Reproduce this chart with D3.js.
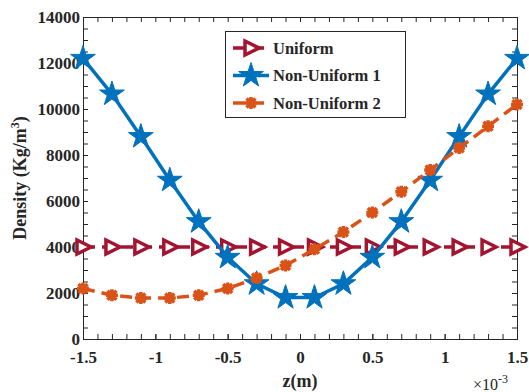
<!DOCTYPE html>
<html>
<head>
<meta charset="utf-8">
<script src="https://cdn.jsdelivr.net/npm/d3@7"></script>
<style>
  body { margin: 0; background: #fff; }
  svg text { font-family: "Liberation Serif", "Times New Roman", serif; font-weight: bold; fill: #262626; }
</style>
</head>
<body>
<div id="chart"></div>
<script>
// 数据 (z 单位为 1e-3 m)
const zValues = [-1.5, -1.3, -1.1, -0.9, -0.7, -0.5, -0.3, -0.1, 0.1, 0.3, 0.5, 0.7, 0.9, 1.1, 1.3, 1.5];
const uniform = [4000, 4000, 4000, 4000, 4000, 4000, 4000, 4000, 4000, 4000, 4000, 4000, 4000, 4000, 4000, 4000];
const nonUniform1 = [12200, 10650, 8800, 6900, 5100, 3550, 2400, 1800, 1800, 2400, 3550, 5100, 6900, 8800, 10650, 12200];
const nonUniform2 = [2200, 1900, 1780, 1780, 1900, 2200, 2650, 3200, 3900, 4650, 5500, 6400, 7350, 8300, 9250, 10200];
const xTicks = [-1.5, -1, -0.5, 0, 0.5, 1, 1.5];
const yTicks = [0, 2000, 4000, 6000, 8000, 10000, 12000, 14000];
const seriesNames = ['Uniform', 'Non-Uniform 1', 'Non-Uniform 2'];

const width = 529, height = 392;
const margin = { top: 17, right: 12, bottom: 53, left: 83 };

const svg = d3.select('#chart').append('svg')
    .attr('width', width)
    .attr('height', height);

const x = d3.scaleLinear().domain([-1.5, 1.5]).range([margin.left, width - margin.right]);
const y = d3.scaleLinear().domain([0, 14000]).range([height - margin.bottom, margin.top]);

const axisColor = '#262626';
const tickLen = 5;

// 坐标框和刻度
const axes = svg.append('g');
function drawTicks(g, axis) {
    g.call(axis);
    g.select('.domain').attr('stroke', axisColor);
    g.selectAll('.tick line').attr('stroke', axisColor);
}
const minorX = d3.range(-15, 16).map(d => d / 10);
const minorY = d3.range(0, 14001, 500);

// 下
axes.append('g').attr('transform', `translate(0,${y(0)})`)
    .call(g => drawTicks(g, d3.axisBottom(x).tickValues(minorX).tickSize(-tickLen).tickFormat('')));
axes.append('g').attr('transform', `translate(0,${y(0)})`)
    .call(g => drawTicks(g, d3.axisBottom(x).tickValues(xTicks).tickSize(-tickLen).tickPadding(12).tickFormat(d => d)))
    .selectAll('text').attr('font-size', 17);
// 上
axes.append('g').attr('transform', `translate(0,${y(14000)})`)
    .call(g => drawTicks(g, d3.axisTop(x).tickValues(minorX).tickSize(-tickLen).tickFormat('')));
// 左
axes.append('g').attr('transform', `translate(${x(-1.5)},0)`)
    .call(g => drawTicks(g, d3.axisLeft(y).tickValues(minorY).tickSize(-tickLen).tickFormat('')));
axes.append('g').attr('transform', `translate(${x(-1.5)},0)`)
    .call(g => drawTicks(g, d3.axisLeft(y).tickValues(yTicks).tickSize(-tickLen).tickPadding(3).tickFormat(d => d)))
    .selectAll('text').attr('font-size', 17);
// 右
axes.append('g').attr('transform', `translate(${x(1.5)},0)`)
    .call(g => drawTicks(g, d3.axisRight(y).tickValues(minorY).tickSize(-tickLen).tickFormat('')));
axes.selectAll('.tick text').attr('fill', axisColor);

// 轴标签
svg.append('text')
    .attr('x', (x(-1.5) + x(1.5)) / 2)
    .attr('y', 387)
    .attr('text-anchor', 'middle')
    .attr('font-size', 18)
    .text('z(m)');
svg.append('text')
    .attr('transform', `translate(26,${(y(0) + y(14000)) / 2}) rotate(-90)`)
    .attr('text-anchor', 'middle')
    .attr('font-size', 18)
    .html('Density (Kg/m<tspan dy="-7" font-size="12">3</tspan><tspan dy="7">)</tspan>');
svg.append('text')
    .attr('x', 473)
    .attr('y', 390)
    .attr('font-size', 16)
    .style('font-weight', 'normal')
    .html('×10<tspan dy="-7" font-size="12">-3</tspan>');

// 标记形状
const triangle = 'M-6,-7L8,0L-6,7Z';
const star = d3.symbol().type(d3.symbolStar).size(190)();
const asterisk = 'M-6,0L6,0M0,-6L0,6M-4.5,-4.5L4.5,4.5M-4.5,4.5L4.5,-4.5';

const series = [
    { name: seriesNames[0], values: uniform, color: '#A2142F', dash: '12,7', marker: 'tri' },
    { name: seriesNames[1], values: nonUniform1, color: '#0072BD', dash: null, marker: 'star' },
    { name: seriesNames[2], values: nonUniform2, color: '#D95319', dash: '12,7', marker: 'ast' }
];

function drawMarker(g, s) {
    if (s.marker === 'tri') {
        g.append('path').attr('d', triangle).attr('fill', '#fff').attr('stroke', s.color).attr('stroke-width', 3.5);
    } else if (s.marker === 'star') {
        g.append('path').attr('d', star).attr('fill', s.color).attr('stroke', s.color).attr('stroke-width', 1);
    } else {
        g.append('path').attr('d', asterisk).attr('fill', 'none').attr('stroke', s.color).attr('stroke-width', 3.5);
    }
}

const line = d3.line().x(d => x(d[0])).y(d => y(d[1]));
const plot = svg.append('g');
series.forEach(s => {
    const pts = zValues.map((z, i) => [z, s.values[i]]);
    plot.append('path')
        .datum(pts)
        .attr('d', line)
        .attr('fill', 'none')
        .attr('stroke', s.color)
        .attr('stroke-width', 3.5)
        .attr('stroke-dasharray', s.dash);
    pts.forEach(p => {
        const g = plot.append('g').attr('transform', `translate(${x(p[0])},${y(p[1])})`);
        drawMarker(g, s);
    });
});

// 图例
const legend = svg.append('g');
legend.append('rect')
    .attr('x', 225.5).attr('y', 31.5)
    .attr('width', 180).attr('height', 86)
    .attr('fill', '#fff')
    .attr('stroke', axisColor)
    .attr('stroke-width', 1);
series.forEach((s, i) => {
    const ly = 48 + i * 27.5;
    legend.append('line')
        .attr('x1', 233).attr('x2', 269)
        .attr('y1', ly).attr('y2', ly)
        .attr('stroke', s.color)
        .attr('stroke-width', 3.5)
        .attr('stroke-dasharray', s.dash);
    const g = legend.append('g').attr('transform', `translate(251,${ly})`);
    drawMarker(g, s);
    legend.append('text')
        .attr('x', 273).attr('y', ly + 5.5)
        .attr('font-size', 16.5)
        .text(s.name);
});
</script>
</body>
</html>
